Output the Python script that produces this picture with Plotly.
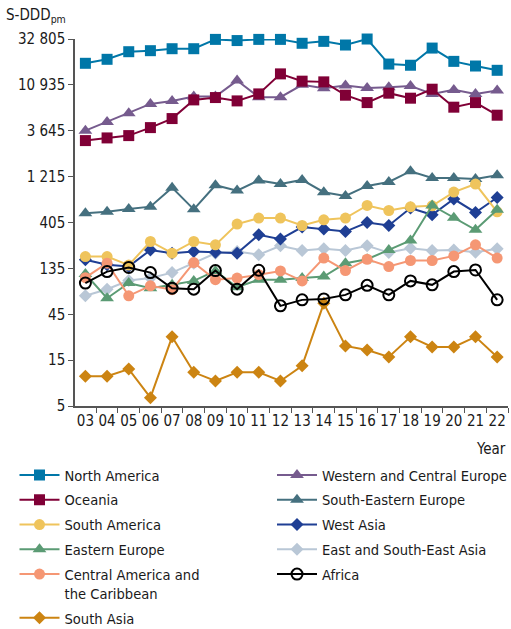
import plotly.graph_objects as go

years = ["03","04","05","06","07","08","09","10","11","12","13","14","15","16","17","18","19","20","21","22"]

north_america = [18330,20170,24200,24800,26000,26000,32500,31600,32500,32500,29600,31000,28400,32800,18000,17500,26400,19200,17180,15500]
oceania = [2880,3070,3245,3930,4880,7630,8070,7450,8810,14230,11950,11750,8540,7155,8965,7950,9860,6410,7155,5290]
south_america = [179,179,146,257,194,257,237,390,450,450,377,432,450,609,540,590,604,839,1017,523]
eastern_europe = [118,66,95,84,91,100,127,86,103,103,107,111,153,168,210,263,609,453,340,549]
central_america = [108,153,70,89,81,155,103,107,116,127,100,173,128,168,141,163,163,182,237,173]
south_asia = [10.2,10.2,12.1,6.1,26.2,11.2,9.1,11.2,11.2,9.1,13.1,58.4,21.1,19.1,16.2,26.2,20.6,20.6,26.2,16.2]
west_central_europe = [3650,4505,5550,6935,7450,8270,8270,12120,8140,8140,10935,10100,10760,10170,10330,10670,8810,9700,8810,9550]
south_eastern_europe = [505,525,560,592,933,555,989,869,1110,1020,1123,836,765,972,1070,1383,1177,1177,1150,1256]
west_asia = [166,147,141,210,194,202,199,194,302,272,363,346,326,405,377,572,487,710,515,737]
east_se_asia = [70,82,101,107,122,153,194,202,187,232,207,216,207,232,197,219,207,210,199,216]
africa = [95,125,138,122,84,82,128,82,129,55,63.5,65,71.6,90,71.6,100,91,125,130,63.5]

y_tickvals = [5,15,45,135,405,1215,3645,10935,32805]
y_ticktext = ["5","15","45","135","405","1 215","3 645","10 935","32 805"]

FONT = "DejaVu Sans Condensed, Liberation Sans Narrow, sans-serif"
TXT = "#1a1a1a"

series = [
    # name, values, color, symbol, size, legend, rank
    ("Western and Central Europe", west_central_europe, "#765b8e", "triangle-up", 12, "legend2", 1),
    ("South-Eastern Europe", south_eastern_europe, "#45707f", "triangle-up", 12, "legend2", 2),
    ("East and South-East Asia", east_se_asia, "#b9c7d6", "diamond", 10, "legend2", 4),
    ("West Asia", west_asia, "#1f3f94", "diamond", 10, "legend2", 3),
    ("North America", north_america, "#0077a8", "square", 11, "legend", 1),
    ("Oceania", oceania, "#800036", "square", 11, "legend", 2),
    ("South America", south_america, "#efc45c", "circle", 11, "legend", 3),
    ("Eastern Europe", eastern_europe, "#5b9b74", "triangle-up", 12, "legend", 4),
    ("Central America and<br>the Caribbean", central_america, "#f59774", "circle", 11, "legend", 5),
    ("South Asia", south_asia, "#cc8412", "diamond", 10, "legend", 6),
    ("Africa", africa, "#000000", "circle-open", 11, "legend2", 5),
]

fig = go.Figure()
for i, (name, vals, color, sym, size, leg, rank) in enumerate(series):
    marker = dict(symbol=sym, size=size, color=color)
    if sym == "circle-open":
        marker["line"] = dict(width=2, color=color)
    fig.add_trace(go.Scatter(
        x=years, y=vals, name=name, mode="lines+markers",
        line=dict(color=color, width=2),
        marker=marker, cliponaxis=False, legend=leg, legendrank=rank,
        legendgroup=f"g{i}",
    ))

LEG_TOP = 1 - 459.0 / 629
legend_common = dict(
    orientation="v", xref="container", yref="container", xanchor="left", yanchor="top",
    itemwidth=40, font=dict(family=FONT, size=14.6, color=TXT),
    valign="top", traceorder="grouped", tracegroupgap=2.8, bgcolor="rgba(0,0,0,0)",
)

fig.update_layout(
    width=511, height=629,
    margin=dict(l=75, r=3, t=39, b=223, autoexpand=False),
    paper_bgcolor="white", plot_bgcolor="white",
    font=dict(family=FONT, size=15, color=TXT),
    showlegend=True,
    legend=dict(x=14.5/511, y=LEG_TOP, **legend_common),
    legend2=dict(x=272/511, y=LEG_TOP, **legend_common),
    xaxis=dict(
        type="category", range=[-0.48, 19.5], tickson="boundaries", tickangle=0,
        ticks="outside", ticklen=5, tickcolor="#555", showline=True,
        linecolor="#555", linewidth=1.5, showgrid=False, zeroline=False,
        tickfont=dict(family=FONT, size=15, color=TXT),
    ),
    yaxis=dict(
        type="log", range=[0.69897, 4.51594], tickvals=y_tickvals, ticktext=y_ticktext,
        ticks="outside", ticklen=5, tickcolor="#555", showline=True,
        linecolor="#555", linewidth=1.5, showgrid=False, zeroline=False,
        tickfont=dict(family=FONT, size=15, color=TXT),
    ),
    annotations=[
        dict(text="S-DDD<sub>pm</sub>", xref="paper", yref="paper", x=-0.165, y=1.065,
             xanchor="left", yanchor="middle", showarrow=False,
             font=dict(family=FONT, size=15, color=TXT)),
        dict(text="Year", xref="paper", yref="paper", x=1.0, y=-0.117,
             xanchor="right", yanchor="middle", showarrow=False,
             font=dict(family=FONT, size=15, color=TXT)),
    ],
)

fig.write_html("out.html", config={"displayModeBar": False},
               post_script="document.body.style.margin='0px';")
